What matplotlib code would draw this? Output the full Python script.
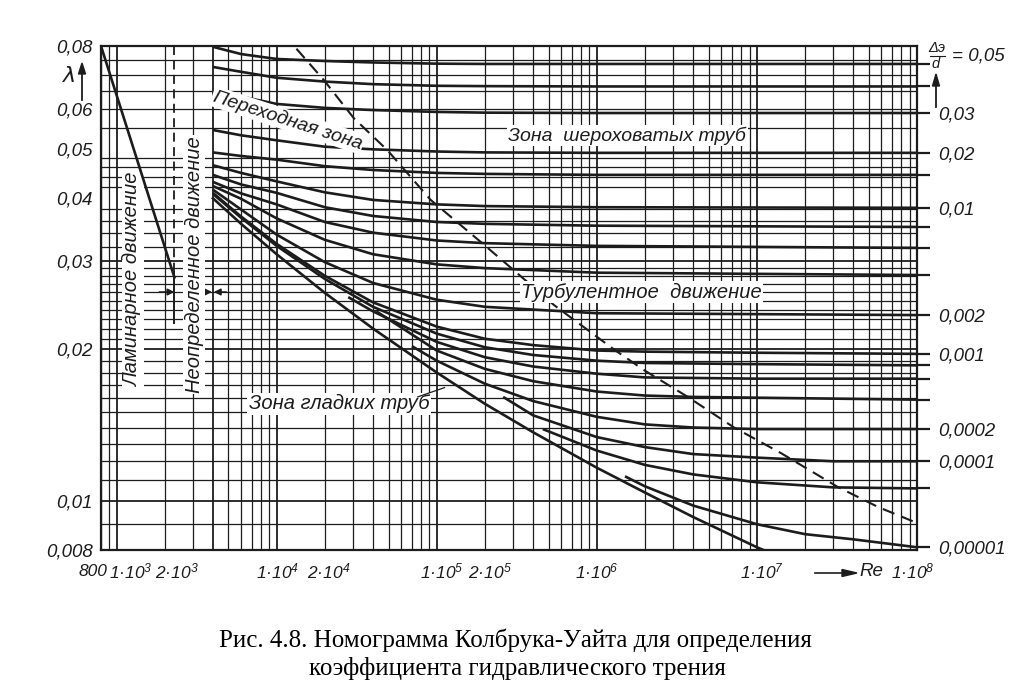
import matplotlib.pyplot as plt
from matplotlib.ticker import NullLocator

W, H = 1017, 686
INK = '#1c1c1c'
FONT = ['Liberation Sans', 'DejaVu Sans']

plt.rcParams['mathtext.fontset'] = 'custom'
plt.rcParams['mathtext.it'] = 'Liberation Sans:italic'
plt.rcParams['mathtext.rm'] = 'Liberation Sans:italic'
plt.rcParams['mathtext.default'] = 'it'

# laminar line, read at its two ends
re_lam = [800, 2300]
lam_lam = [0.080, 0.0278]

# curves starting at Re = 4000 (relative roughness 0.05 ... 0.002)
re_start = [4e3, 6e3, 1e4, 2e4, 4e4, 1e5, 2e5, 1e6, 1e8]
lam_0500 = [0.0797, 0.0771, 0.0754, 0.0747, 0.0742, 0.0738, 0.0737, 0.0737, 0.0737]
lam_0400 = [0.0727, 0.0711, 0.0692, 0.0680, 0.0672, 0.0667, 0.0666, 0.0665, 0.0665]
lam_0300 = [0.0651, 0.0635, 0.0614, 0.0603, 0.0597, 0.0592, 0.0590, 0.0589, 0.0589]
lam_0200 = [0.0545, 0.0532, 0.0520, 0.0505, 0.0499, 0.0494, 0.0492, 0.0491, 0.0491]
lam_0150 = [0.0492, 0.0484, 0.0476, 0.0462, 0.0454, 0.0448, 0.0446, 0.0444, 0.0444]
lam_0100 = [0.0464, 0.0448, 0.0431, 0.0410, 0.0396, 0.0388, 0.0385, 0.0383, 0.0382]
lam_0080 = [0.0444, 0.0425, 0.0409, 0.0383, 0.0368, 0.0358, 0.0355, 0.0352, 0.0350]
lam_0060 = [0.0430, 0.0408, 0.0388, 0.0358, 0.0341, 0.0329, 0.0325, 0.0321, 0.0318]
lam_0040 = [0.0422, 0.0398, 0.0364, 0.0330, 0.0309, 0.0295, 0.0290, 0.0284, 0.0281]
lam_0020 = [0.0415, 0.0379, 0.0338, 0.0298, 0.0271, 0.0251, 0.0243, 0.0236, 0.0234]

# low roughness curves
re_0010 = [4e3, 6e3, 1e4, 2e4, 4e4, 1e5, 2e5, 4e5, 1e6, 2e6, 1e7, 1e8]
lam_0010 = [0.0409, 0.0367, 0.0324, 0.0280, 0.0248, 0.0222, 0.0210, 0.0204, 0.0199, 0.0198, 0.0197, 0.0196]
re_0008 = [4e3, 6e3, 1e4, 2e4, 4e4, 1e5, 2e5, 4e5, 1e6, 2e6, 1e7, 1e8]
lam_0008 = [0.0407, 0.0365, 0.0321, 0.0276, 0.0243, 0.0215, 0.0202, 0.0195, 0.0190, 0.0188, 0.0187, 0.0186]
re_0006 = [2.8e4, 4e4, 1e5, 2e5, 4e5, 1e6, 2e6, 1e7, 1e8]
lam_0006 = [0.0254, 0.0238, 0.0207, 0.0193, 0.0185, 0.0179, 0.0176, 0.0175, 0.0175]
re_0004 = [4.2e4, 1e5, 2e5, 4e5, 1e6, 2e6, 4e6, 1e8]
lam_0004 = [0.0238, 0.0199, 0.0183, 0.0173, 0.0165, 0.0162, 0.0161, 0.0159]
re_0002 = [7e4, 1e5, 2e5, 4e5, 1e6, 2e6, 4e6, 1e7, 1e8]
lam_0002 = [0.0203, 0.0190, 0.0171, 0.0158, 0.0147, 0.0142, 0.0140, 0.0139, 0.0139]
re_0001 = [2.6e5, 4e5, 1e6, 2e6, 4e6, 1e7, 3e7, 1e8]
lam_0001 = [0.0161, 0.0148, 0.0134, 0.0128, 0.0124, 0.0122, 0.0120, 0.0120]
re_00005 = [4.6e5, 1e6, 2e6, 4e6, 1e7, 3e7, 1e8]
lam_00005 = [0.0139, 0.0126, 0.0118, 0.0113, 0.0109, 0.01065, 0.0106]
re_00001 = [1.5e6, 2e6, 4e6, 1e7, 2e7, 4e7, 1e8]
lam_00001 = [0.0112, 0.0107, 0.0098, 0.0090, 0.0086, 0.0084, 0.0081]

# smooth pipes
re_smooth = [4e3, 6e3, 1e4, 2e4, 4e4, 1e5, 2e5, 4e5, 1e6, 2e6, 4e6, 1e7, 1.1e7]
lam_smooth = [0.0399, 0.0355, 0.0309, 0.0259, 0.0220, 0.0180, 0.0156, 0.0137, 0.01165, 0.0104, 0.0093, 0.0081, 0.0080]

# boundary of the rough-pipe zone (dashed)
re_bound = [1.33e4, 1.97e4, 3.04e4, 4.92e4, 9.17e4, 1.88e5, 3.0e5, 5.4e5, 1.28e6, 1.97e6,
            3.7e6, 7.2e6, 1.41e7, 3.2e7, 5.7e7, 1.0e8]
lam_bound = [0.0790, 0.0685, 0.0575, 0.0497, 0.0396, 0.0327, 0.0288, 0.0245, 0.0200, 0.0182,
             0.0161, 0.0140, 0.01246, 0.01067, 0.00974, 0.00905]

curves = [
    (re_start, lam_0500), (re_start, lam_0400), (re_start, lam_0300), (re_start, lam_0200),
    (re_start, lam_0150), (re_start, lam_0100), (re_start, lam_0080), (re_start, lam_0060),
    (re_start, lam_0040), (re_start, lam_0020), (re_0010, lam_0010), (re_0008, lam_0008),
    (re_0006, lam_0006), (re_0004, lam_0004), (re_0002, lam_0002), (re_0001, lam_0001),
    (re_00005, lam_00005), (re_00001, lam_00001),
]
right_labels = ['', '', '0,03', '0,02', '', '0,01', '', '', '', '0,002', '0,001', '', '', '',
                '0,0002', '0,0001', '', '0,00001']

y_ticks = [0.008, 0.01, 0.02, 0.03, 0.04, 0.05, 0.06, 0.08]
y_labels = ['0,008', '0,01', '0,02', '0,03', '0,04', '0,05', '0,06', '0,08']
x_label_re = [800, 1e3, 2e3, 1e4, 2e4, 1e5, 2e5, 1e6, 1e7, 1e8]
x_label_txt = ['800', r'$1·10^3$', r'$2·10^3$', r'$1·10^4$', r'$2·10^4$',
               r'$1·10^5$', r'$2·10^5$', r'$1·10^6$', r'$1·10^7$', r'$1·10^8$']
x_label_dx = [-8, 14, 12, 1, 4, 5, 5, 0, 5, -4]

# grid positions
x_grid = [k * 10 ** p for p in range(2, 8) for k in range(1, 10) if 800 <= k * 10 ** p <= 1e8]
y_grid = ([0.009] + [i / 1000 for i in range(10, 31)] + [0.032, 0.034, 0.036, 0.038, 0.042,
          0.044, 0.046, 0.048, 0.055, 0.060, 0.065, 0.070, 0.075])

ital = dict(style='italic', family=FONT, color=INK)

fig = plt.figure(figsize=(W / 100, H / 100), dpi=100)
ax = fig.add_axes([101 / W, 1 - 550 / H, 816 / W, 504 / H])
ax.set_xscale('log')
ax.set_yscale('log')
ax.set_xlim(800, 1e8)
ax.set_ylim(0.008, 0.08)

for v in x_grid:
    bold = v in (1e3, 4e3, 1e4, 1e5, 1e6, 1e7)
    ax.axvline(v, color=INK, lw=1.3 if bold else 0.9, zorder=1)
for v in y_grid:
    bold = v in (0.01, 0.02, 0.03, 0.04, 0.05)
    ax.axhline(v, color=INK, lw=1.3 if bold else 0.9, zorder=1)

for re, lam in curves:
    ax.plot(re, lam, color=INK, lw=1.9, zorder=3, solid_capstyle='butt')
ax.plot(re_smooth, lam_smooth, color=INK, lw=1.9, zorder=3)
ax.plot(re_lam, lam_lam, color=INK, lw=1.9, zorder=6)
ax.plot(re_bound, lam_bound, color=INK, lw=1.5, ls=(0, (6, 3.5)), zorder=3)

# Re = 2300: dashed above the laminar end, solid below
ax.plot([2300, 2300], [0.08, 0.0285], color=INK, lw=1.3, ls=(0, (5, 3)), zorder=3)
ax.plot([2300, 2300], [0.0285, 0.0226], color=INK, lw=1.4, zorder=3)
arr = dict(arrowstyle='-|>', color=INK, lw=1.1, mutation_scale=10, shrinkA=0, shrinkB=0)
ax.annotate('', xy=(2300, 0.026), xytext=(1850, 0.026), arrowprops=arr, zorder=4)
ax.annotate('', xy=(3950, 0.026), xytext=(3350, 0.026), arrowprops=arr, zorder=4)
ax.annotate('', xy=(4050, 0.026), xytext=(4850, 0.026), arrowprops=arr, zorder=4)

for s in ax.spines.values():
    s.set_linewidth(1.6)
    s.set_color(INK)

ax.xaxis.set_major_locator(NullLocator())
ax.xaxis.set_minor_locator(NullLocator())
ax.set_yticks(y_ticks)
ax.set_yticklabels(y_labels, fontsize=13.5, **ital)
ax.yaxis.set_minor_locator(NullLocator())
ax.tick_params(axis='y', length=0, pad=6)

for re, txt, dx in zip(x_label_re, x_label_txt, x_label_dx):
    ax.annotate(txt, xy=(re, 0), xycoords=ax.get_xaxis_transform(), xytext=(dx, -21),
                textcoords='offset pixels', ha='center', va='center', fontsize=12.5, **ital)

ax2 = ax.twinx()
ax2.set_yscale('log')
ax2.set_ylim(0.008, 0.08)
ax2.set_yticks([lam[-1] for re, lam in curves])
ax2.set_yticklabels(right_labels, fontsize=13.5, **ital)
ax2.yaxis.set_minor_locator(NullLocator())
ax2.tick_params(axis='y', length=9, width=1.6, direction='out', pad=6, color=INK)
for s in ax2.spines.values():
    s.set_visible(False)

box = dict(facecolor='white', edgecolor='none', pad=1.0)
ax.text(1.17e4, 0.0570, 'Переходная зона', rotation=-18, ha='center', va='center',
        fontsize=14, bbox=box, zorder=5, **ital)
ax.text(1.55e6, 0.0531, 'Зона  шероховатых труб', ha='center', va='center',
        fontsize=14, bbox=box, zorder=5, **ital)
ax.text(1.9e6, 0.0260, 'Турбулентное  движение', ha='center', va='center',
        fontsize=14.5, bbox=box, zorder=5, **ital)
ax.text(2.45e4, 0.0156, 'Зона гладких труб', ha='center', va='center',
        fontsize=14.5, bbox=box, zorder=5, **ital)
ax.plot([7.6e4, 1.12e5], [0.0161, 0.0168], color=INK, lw=0.9, zorder=5)
ax.text(1260, 0.0275, 'Ламинарное движение', rotation=90, ha='center', va='center',
        fontsize=14.5, bbox=box, zorder=5, **ital)
ax.text(3050, 0.0295, 'Неопределенное движение', rotation=90, ha='center', va='center',
        fontsize=14.5, bbox=box, zorder=5, **ital)


def fx(px):
    return px / W


def fy(py):
    return 1 - py / H


fig.text(fx(70), fy(76), 'λ', fontsize=16, ha='center', va='center', style='italic',
         family='DejaVu Sans', color=INK)
fig.add_artist(plt.Line2D([fx(82), fx(82)], [fy(100), fy(72)], color=INK, lw=1.3))
fig.patches.append(plt.Polygon([[fx(78.5), fy(74)], [fx(85.5), fy(74)], [fx(82), fy(63)]],
                               closed=True, color=INK, transform=fig.transFigure))

fig.text(fx(937), fy(48), 'Δэ', fontsize=10.5, ha='center', va='center', **ital)
fig.add_artist(plt.Line2D([fx(930), fx(945)], [fy(56), fy(56)], color=INK, lw=0.8))
fig.text(fx(936), fy(64), 'd', fontsize=10.5, ha='center', va='center', **ital)
fig.text(fx(952), fy(56), '= 0,05', fontsize=13.5, ha='left', va='center', **ital)
fig.add_artist(plt.Line2D([fx(936), fx(936)], [fy(107), fy(84)], color=INK, lw=1.3))
fig.patches.append(plt.Polygon([[fx(932.5), fy(86)], [fx(939.5), fy(86)], [fx(936), fy(74)]],
                               closed=True, color=INK, transform=fig.transFigure))

fig.add_artist(plt.Line2D([fx(815), fx(846)], [fy(573), fy(573)], color=INK, lw=1.2))
fig.patches.append(plt.Polygon([[fx(842), fy(569.5)], [fx(842), fy(576.5)], [fx(857), fy(573)]],
                               closed=True, color=INK, transform=fig.transFigure))
fig.text(fx(859), fy(572), 'Re', fontsize=13.5, ha='left', va='center', **ital)

fig.text(fx(515), fy(640), 'Рис. 4.8. Номограмма Колбрука-Уайта для определения',
         fontsize=18, family='Liberation Serif', ha='center', va='center', color='black')
fig.text(fx(517), fy(668), 'коэффициента гидравлического трения',
         fontsize=18, family='Liberation Serif', ha='center', va='center', color='black')

fig.savefig('out.png', dpi=100, facecolor='white')
